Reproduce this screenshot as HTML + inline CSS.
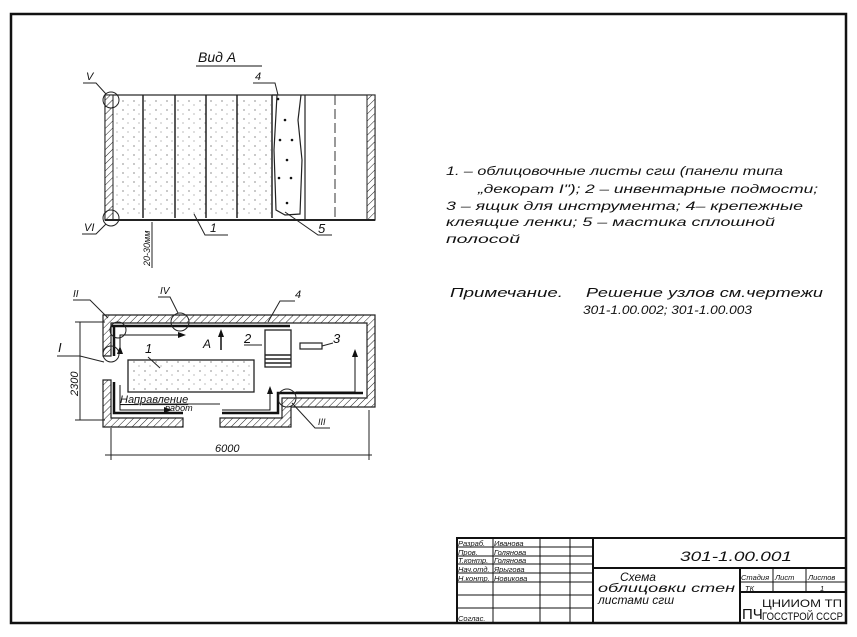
<!DOCTYPE html>
<html><head><meta charset="utf-8"><style>
html,body{margin:0;padding:0;background:#fff;}
svg{display:block;}
text{font-family:"Liberation Sans","DejaVu Sans",sans-serif;font-style:italic;fill:#111;}
</style></head><body>
<svg width="857" height="637" viewBox="0 0 857 637" xmlns="http://www.w3.org/2000/svg">
<defs>
<pattern id="h" width="5" height="5" patternUnits="userSpaceOnUse" patternTransform="rotate(45)">
<rect width="5" height="5" fill="#fff"/><line x1="0" y1="0" x2="0" y2="5" stroke="#222" stroke-width="1"/>
</pattern>
<pattern id="dots" width="11" height="9" patternUnits="userSpaceOnUse">
<rect width="11" height="9" fill="#fff"/><circle cx="2" cy="2" r="0.6" fill="#444"/><circle cx="7" cy="6" r="0.5" fill="#555"/>
</pattern>
</defs>
<rect width="857" height="637" fill="#fff"/>
<rect x="11" y="14" width="835" height="609" fill="none" stroke="#111" stroke-width="2.5"/>

<text x="198" y="62" font-size="14">Вид А</text>
<line x1="196" y1="66" x2="262" y2="66" stroke="#111" stroke-width="1"/>
<rect x="105" y="95" width="270" height="125" fill="#fff" stroke="#222" stroke-width="1.2"/>
<rect x="105" y="95" width="8" height="125" fill="url(#h)" stroke="#222"/>
<rect x="367" y="95" width="8" height="125" fill="url(#h)" stroke="#222"/>
<rect x="114" y="97" width="157" height="120" fill="url(#dots)"/>
<g stroke="#222" stroke-width="1.5">
<line x1="143" y1="95" x2="143" y2="218"/><line x1="175" y1="95" x2="175" y2="218"/>
<line x1="206" y1="95" x2="206" y2="218"/><line x1="237" y1="95" x2="237" y2="218"/>
<line x1="272" y1="95" x2="272" y2="218"/>
</g>
<path d="M272 95 L277 95 L274 150 L276 210 L285 215 L300 214 L302 160 L298 120 L301 95" fill="none" stroke="#222" stroke-width="1.2"/>
<line x1="305" y1="95" x2="305" y2="220" stroke="#222" stroke-width="1.2"/>
<line x1="335" y1="95" x2="335" y2="220" stroke="#333" stroke-dasharray="10,4" stroke-width="1"/>
<g fill="#111"><circle cx="278" cy="99" r="1.3"/><circle cx="285" cy="120" r="1.3"/><circle cx="280" cy="140" r="1.3"/><circle cx="292" cy="140" r="1.3"/><circle cx="287" cy="160" r="1.3"/><circle cx="279" cy="178" r="1.3"/><circle cx="291" cy="178" r="1.3"/><circle cx="287" cy="203" r="1.3"/></g>
<line x1="105" y1="220" x2="375" y2="220" stroke="#222" stroke-width="2"/>
<circle cx="111" cy="100" r="8" fill="none" stroke="#222"/>
<circle cx="111" cy="218" r="8" fill="none" stroke="#222"/>
<polyline points="83,83 96,83 106,94" fill="none" stroke="#222"/>
<text x="86" y="80" font-size="11">V</text>
<polyline points="82,234 96,234 106,224" fill="none" stroke="#222"/>
<text x="84" y="231" font-size="11">VI</text>
<polyline points="253,83 275,83 278,95" fill="none" stroke="#222"/>
<text x="255" y="80" font-size="11">4</text>
<polyline points="194,214 205,235 228,235" fill="none" stroke="#222"/>
<text x="210" y="232" font-size="12">1</text>
<polyline points="285,212 318,235 332,235 M300,214 l18,21" fill="none" stroke="#222"/>
<text x="318" y="233" font-size="13">5</text>
<line x1="152" y1="222" x2="152" y2="268" stroke="#222"/>
<text x="0" y="0" font-size="9" transform="translate(150,266) rotate(-90)">20-30мм</text>

<path d="M103 315 H375 V407 H291 V427 H220 V418 H282 V398 H367 V323 H111 V356 H103 Z" fill="url(#h)" stroke="#222" stroke-width="1.2"/>
<path d="M103 380 H111 V418 H183 V427 H103 Z" fill="url(#h)" stroke="#222" stroke-width="1.2"/>
<path d="M111 326 H290 M114 326 V356 M114 382 V413 H183 M222 413 H278 V393 H363" fill="none" stroke="#111" stroke-width="2.5"/>
<rect x="128" y="360" width="126" height="32" fill="url(#dots)" stroke="#222" stroke-width="1.3"/>
<rect x="265" y="330" width="26" height="37" fill="#fff" stroke="#222" stroke-width="1.3"/>
<g stroke="#222" stroke-width="1.5"><line x1="265" y1="355" x2="291" y2="355"/><line x1="265" y1="359" x2="291" y2="359"/><line x1="265" y1="363" x2="291" y2="363"/></g>
<rect x="300" y="343" width="22" height="6" fill="none" stroke="#222" stroke-width="1.2"/>
<line x1="322" y1="346" x2="333" y2="343" stroke="#222"/>
<text x="333" y="343" font-size="13">3</text>
<line x1="244" y1="345" x2="262" y2="345" stroke="#222"/>
<text x="244" y="343" font-size="13">2</text>
<line x1="148" y1="357" x2="160" y2="368" stroke="#222"/>
<text x="145" y="353" font-size="13">1</text>
<text x="203" y="348" font-size="12">А</text>
<line x1="221" y1="350" x2="221" y2="333" stroke="#111" stroke-width="1.5"/><polygon points="221,329 218,337 224,337" fill="#111"/>
<g stroke="#111" stroke-width="1" fill="none">
<polyline points="120,350 120,335 180,335"/>
<polyline points="120,385 120,410 168,410"/>
<polyline points="222,410 270,410 270,390"/>
<polyline points="296,392 355,392 355,352"/>
</g>
<g fill="#111"><polygon points="186,335 178,332 178,338"/><polygon points="120,346 117,354 123,354"/><polygon points="172,410 164,407 164,413"/><polygon points="270,386 267,394 273,394"/><polygon points="355,349 352,357 358,357"/></g>
<text x="120" y="403" font-size="11" text-decoration="underline">Направление</text>
<text x="165" y="411" font-size="9">работ</text>
<line x1="134" y1="404" x2="220" y2="404" stroke="#222"/>
<circle cx="111" cy="354" r="8" fill="none" stroke="#222"/>
<circle cx="118" cy="330" r="8" fill="none" stroke="#222"/>
<circle cx="180" cy="322" r="9" fill="none" stroke="#222"/>
<circle cx="287" cy="398" r="9" fill="none" stroke="#222"/>
<polyline points="57,356 80,356 104,362" fill="none" stroke="#222"/>
<text x="58" y="352" font-size="13">I</text>
<polyline points="73,300 90,300 108,318" fill="none" stroke="#222"/>
<text x="73" y="297" font-size="10">II</text>
<polyline points="158,297 170,297 178,313" fill="none" stroke="#222"/>
<text x="160" y="294" font-size="10">IV</text>
<polyline points="295,301 280,301 268,322" fill="none" stroke="#222"/>
<text x="295" y="298" font-size="11">4</text>
<polyline points="292,403 315,428 330,428" fill="none" stroke="#222"/>
<text x="318" y="425" font-size="9">III</text>
<line x1="80" y1="322" x2="80" y2="420" stroke="#222"/>
<line x1="75" y1="322" x2="105" y2="322" stroke="#222"/>
<line x1="75" y1="420" x2="105" y2="420" stroke="#222"/>
<text x="0" y="0" font-size="11" transform="translate(78,396) rotate(-90)">2300</text>
<line x1="105" y1="455" x2="372" y2="455" stroke="#222"/>
<line x1="111" y1="428" x2="111" y2="460" stroke="#222"/>
<line x1="369" y1="410" x2="369" y2="460" stroke="#222"/>
<text x="215" y="452" font-size="11">6000</text>

<g font-size="11.5">
<text x="446" y="175" textLength="337" lengthAdjust="spacingAndGlyphs">1. – облицовочные листы сгш (панели типа</text>
<text x="478" y="193" textLength="340" lengthAdjust="spacingAndGlyphs">„декорат I"); 2 – инвентарные подмости;</text>
<text x="446" y="210" textLength="357" lengthAdjust="spacingAndGlyphs">3 – ящик для инструмента; 4– крепежные</text>
<text x="446" y="226" textLength="329" lengthAdjust="spacingAndGlyphs">клеящие ленки; 5 – мастика сплошной</text>
<text x="446" y="243" textLength="74" lengthAdjust="spacingAndGlyphs">полосой</text>
<text x="450" y="297" font-size="13" textLength="113" lengthAdjust="spacingAndGlyphs">Примечание.</text>
<text x="586" y="297" font-size="13" textLength="237" lengthAdjust="spacingAndGlyphs">Решение узлов см.чертежи</text>
<text x="583" y="314" textLength="169" lengthAdjust="spacingAndGlyphs">301-1.00.002; 301-1.00.003</text>
</g>

<g stroke="#111" fill="none">
<rect x="457" y="538" width="389" height="85" stroke-width="2"/>
<line x1="493" y1="538" x2="493" y2="623"/><line x1="540" y1="538" x2="540" y2="623"/>
<line x1="570" y1="538" x2="570" y2="623"/><line x1="593" y1="538" x2="593" y2="623" stroke-width="2"/>
<line x1="457" y1="547" x2="593" y2="547"/><line x1="457" y1="556" x2="593" y2="556"/>
<line x1="457" y1="564" x2="593" y2="564"/><line x1="457" y1="573" x2="593" y2="573"/>
<line x1="457" y1="582" x2="593" y2="582"/><line x1="457" y1="595" x2="593" y2="595"/>
<line x1="457" y1="608" x2="593" y2="608"/>
<line x1="593" y1="568" x2="846" y2="568" stroke-width="2"/>
<line x1="740" y1="568" x2="740" y2="623" stroke-width="2"/>
<line x1="740" y1="582" x2="846" y2="582"/><line x1="740" y1="592" x2="846" y2="592" stroke-width="2"/>
<line x1="773" y1="568" x2="773" y2="592"/><line x1="806" y1="568" x2="806" y2="592"/>
</g>
<g font-size="7.5">
<text x="458" y="546">Разраб.</text><text x="494" y="546">Иванова</text>
<text x="458" y="555">Пров.</text><text x="494" y="555">Голянова</text>
<text x="458" y="563">Т.контр.</text><text x="494" y="563">Голянова</text>
<text x="458" y="572">Нач.отд.</text><text x="494" y="572">Ярыгова</text>
<text x="458" y="581">Н.контр.</text><text x="494" y="581">Новикова</text>
<text x="458" y="621">Соглас.</text>
<text x="741" y="580">Стадия</text><text x="775" y="580">Лист</text><text x="808" y="580">Листов</text>
<text x="745" y="591">ТК</text><text x="820" y="591">1</text>
</g>
<text x="680" y="561" font-size="14" textLength="112" lengthAdjust="spacingAndGlyphs">301-1.00.001</text>
<text x="620" y="581" font-size="12">Схема</text>
<text x="598" y="592" font-size="12" textLength="137" lengthAdjust="spacingAndGlyphs">облицовки стен</text>
<text x="598" y="604" font-size="12">листами сгш</text>
<text x="742" y="619" font-size="15" style="font-style:normal">ПЧ</text>
<text x="762" y="607" font-size="11" style="font-style:normal" textLength="80" lengthAdjust="spacingAndGlyphs">ЦНИИОМ ТП</text>
<text x="762" y="620" font-size="11" style="font-style:normal" textLength="81" lengthAdjust="spacingAndGlyphs">ГОССТРОЙ СССР</text>
</svg>
</body></html>
